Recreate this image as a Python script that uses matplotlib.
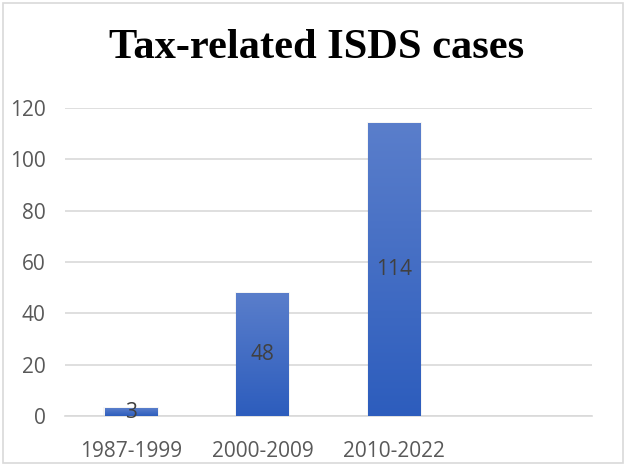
import numpy as np
import matplotlib.pyplot as plt
from matplotlib.colors import LinearSegmentedColormap
from matplotlib.patches import Rectangle

periods = ["1987-1999", "2000-2009", "2010-2022", ""]
cases = [3, 48, 114, None]
yticks = [0, 20, 40, 60, 80, 100, 120]

fig = plt.figure(figsize=(6.26, 4.66), dpi=100)
ax = fig.add_axes([0.1038, 0.1073, 0.8419, 0.6609])

# light frame round the whole chart
fig.patches.append(Rectangle((0.004, 0.006), 0.991, 0.988, transform=fig.transFigure,
                             fill=False, edgecolor="#d9d9d9", linewidth=1.2))

fig.text(0.505, 0.897, "Tax-related ISDS cases", ha="center", va="center",
         fontsize=30.6, fontweight="bold", family="Liberation Serif")

x = np.arange(len(periods))
vals = [v if v is not None else 0 for v in cases]
grad = LinearSegmentedColormap.from_list("g", ["#2d5dbd", "#5a7ecb"])

bars = ax.bar(x, vals, width=0.4, color="#3f6cc4", zorder=3)
for b, v in zip(bars, cases):
    if v is None:
        b.set_visible(False)
        continue
    bx, by = b.get_x(), b.get_y()
    w, h = b.get_width(), b.get_height()
    # soft shadow
    ax.add_patch(Rectangle((bx - 0.01, by), w + 0.02, h + 0.5, color="#000000",
                           alpha=0.04, zorder=2, linewidth=0))
    img = ax.imshow(np.linspace(0, 1, 100).reshape(-1, 1), cmap=grad, aspect="auto",
                    origin="lower", extent=[bx, bx + w, by, by + h], zorder=4)
    img.set_clip_path(b)
    ax.text(b.get_x() + w / 2, h / 2, str(v), ha="center", va="center",
            fontsize=15, color="#404040", zorder=5, family="Open Sans")

ax.set_xlim(-0.5, 3.5)
ax.set_ylim(0, 120)
ax.set_yticks(yticks)
ax.set_xticks(x)
ax.set_xticklabels(periods)
ax.grid(axis="y", color="#d9d9d9", linewidth=1.2, zorder=0)
for s in ["top", "right", "left"]:
    ax.spines[s].set_visible(False)
ax.spines["bottom"].set_color("#d9d9d9")
ax.spines["bottom"].set_linewidth(1.2)
ax.tick_params(axis="both", length=0, labelsize=15, colors="#595959")
ax.tick_params(axis="y", pad=14)
ax.tick_params(axis="x", pad=18)
for lab in ax.get_xticklabels() + ax.get_yticklabels():
    lab.set_family("Open Sans")

fig.savefig("out.png", dpi=100)
